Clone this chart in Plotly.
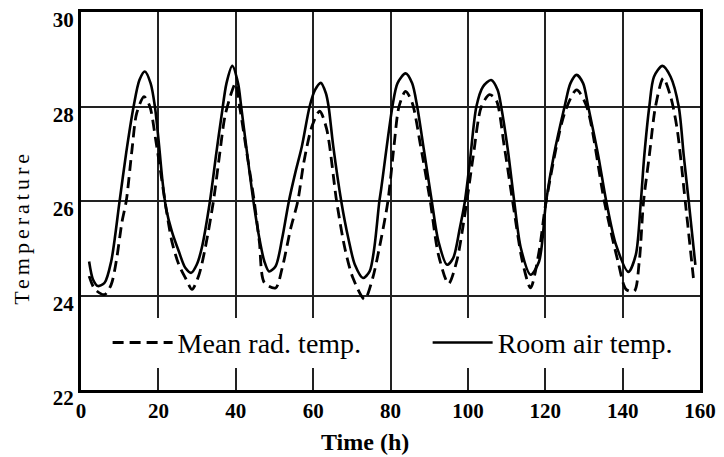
import plotly.graph_objects as go

# Room air temperature (solid)
air_t = [2.1, 3.1, 4.4, 6.1, 7.8, 9.95, 11.7, 13.6, 15.1, 16.5, 18.0, 19.1, 20.2, 21.0, 22.0, 23.5, 25.3, 27.0,
         28.5, 29.9, 31.2, 33.3, 35.0, 36.3, 37.6, 39.1, 40.6, 41.4, 42.7, 44.6, 46.1, 47.4, 48.6, 50.3,
         52.0, 53.7, 55.4, 57.1, 59.1, 60.5, 62.0, 63.3, 64.0, 65.2, 67.3, 69.1, 70.8, 72.9, 74.6, 75.8,
         77.1, 77.6, 80.5, 81.8, 83.9, 85.6, 86.9, 88.6, 90.7, 92.4, 94.6, 96.2, 97.9, 99.2, 100.5, 102.2,
         103.9, 106.0, 107.7, 108.6, 110.3, 112.0, 113.7, 116.2, 118.4, 120.2, 122.2, 125.0, 126.5, 128.1,
         129.8, 131.1, 133.7, 135.8, 138.3, 141.5, 143.4, 144.7, 145.6, 146.9, 148.1, 150.3, 152.4, 154.5,
         155.8, 157.1, 158.8]
air_T = [24.72, 24.34, 24.2, 24.27, 24.72, 25.98, 27.03, 28.0, 28.56, 28.74, 28.49, 28.0, 27.16, 26.47, 25.84,
         25.35, 24.93, 24.58, 24.48, 24.65, 25.0, 25.98, 27.03, 27.79, 28.49, 28.86, 28.49, 28.0, 27.16,
         25.98, 25.21, 24.72, 24.51, 24.62, 25.21, 25.98, 26.6, 27.16, 28.0, 28.35, 28.5, 28.28, 28.0, 27.16,
         25.98, 25.21, 24.65, 24.37, 24.51, 25.0, 25.98, 26.26, 28.0, 28.49, 28.7, 28.49, 28.0, 27.1, 25.98,
         25.14, 24.65, 24.79, 25.42, 25.98, 26.82, 28.0, 28.42, 28.56, 28.35, 28.0, 27.1, 25.98, 25.0, 24.44,
         24.72, 25.98, 26.96, 28.0, 28.49, 28.67, 28.49, 28.0, 26.96, 25.98, 25.07, 24.5, 24.86, 25.98,
         26.96, 28.0, 28.63, 28.86, 28.63, 28.0, 26.96, 25.98, 24.65]

# Mean radiant temperature (dashed)
rad_t = [2.1, 3.6, 6.1, 7.8, 9.1, 10.6, 11.7, 13.2, 14.4, 16.3, 17.8, 19.3, 20.6, 22.0, 23.5, 25.3, 27.0, 28.7,
         30.5, 32.1, 34.2, 35.9, 37.2, 39.0, 39.9, 41.0, 42.7, 44.8, 46.1, 47.4, 50.3, 52.0, 54.2, 56.0,
         57.6, 59.7, 61.7, 63.5, 66.1, 68.2, 70.3, 73.3, 75.4, 77.1, 79.3, 80.9, 82.2, 83.9, 85.6, 87.8,
         90.3, 92.4, 95.0, 97.1, 99.7, 101.4, 103.5, 105.6, 107.3, 109.4, 111.6, 114.1, 116.2, 118.4, 120.2,
         125.0, 128.1, 130.7, 135.3, 138.8, 140.9, 143.0, 144.3, 145.4, 146.9, 148.5, 150.5, 152.4, 154.1,
         156.2, 158.3]
rad_T = [24.41, 24.13, 24.02, 24.23, 24.72, 25.56, 26.0, 27.1, 27.86, 28.21, 28.0, 27.3, 26.6, 25.84, 25.14,
         24.65, 24.37, 24.13, 24.44, 25.0, 25.98, 27.03, 27.79, 28.32, 28.49, 28.0, 27.1, 25.98, 25.14, 24.27,
         24.16, 24.58, 25.42, 25.98, 26.82, 27.58, 27.9, 27.52, 25.98, 25.0, 24.37, 23.92, 24.37, 25.0, 25.98,
         27.16, 28.0, 28.32, 28.08, 27.16, 25.98, 24.86, 24.25, 24.72, 25.98, 26.96, 28.0, 28.25, 28.14, 27.16,
         25.98, 24.72, 24.16, 24.93, 25.98, 27.86, 28.35, 28.0, 25.98, 24.72, 24.13, 24.09, 24.72, 25.98,
         26.96, 28.0, 28.6, 28.21, 27.52, 25.98, 24.37]

x_ticks = [0, 20, 40, 60, 80, 100, 120, 140, 160]
y_ticks = [22, 24, 26, 28, 30]

SERIF = "Liberation Serif"

fig = go.Figure()
fig.add_trace(go.Scatter(x=rad_t, y=rad_T, mode="lines", name="Mean rad. temp.", showlegend=True,
                         line=dict(color="black", width=2.8, dash="11px,6px", shape="spline", smoothing=0.8),
                         legend="legend"))
fig.add_trace(go.Scatter(x=air_t, y=air_T, mode="lines", name="Room air temp.", showlegend=True,
                         line=dict(color="black", width=2.6, shape="spline", smoothing=0.8),
                         legend="legend2"))

axis_common = dict(showline=True, linecolor="black", linewidth=3, mirror=True,
                   showgrid=True, gridcolor="#222", gridwidth=1.5, zeroline=False,
                   ticks="", ticklabeloverflow="allow",
                   tickfont=dict(family=SERIF, size=21, color="black"))

fig.update_xaxes(range=[0, 160], tickvals=x_ticks, ticktext=["<b>%d</b>" % v for v in x_ticks], **axis_common)
fig.update_yaxes(range=[22, 30], tickvals=y_ticks, ticktext=["<b>%d</b>" % v for v in y_ticks],
                 ticklabelshift=8, **axis_common)

fig.update_layout(
    width=724, height=457,
    margin=dict(l=81, r=16, t=8, b=67),
    paper_bgcolor="white", plot_bgcolor="white",
    font=dict(family=SERIF, color="black"),
    showlegend=True,
    legend=dict(x=0.043, y=0.191, bgcolor="white", borderwidth=0, yanchor="top", xanchor="left",
                itemwidth=60, font=dict(family=SERIF, size=28, color="black")),
    legend2=dict(x=0.56, y=0.191, bgcolor="white", borderwidth=0, yanchor="top", xanchor="left",
                 itemwidth=60, font=dict(family=SERIF, size=28, color="black")),
    annotations=[
        dict(text="<b>Time (h)</b>", xref="paper", yref="paper", x=0.458, y=0, yshift=-52,
             xanchor="center", yanchor="middle", showarrow=False,
             font=dict(family=SERIF, size=24, color="black")),
        dict(text='<span style="letter-spacing:4px">Temperature</span>', xref="paper", yref="paper",
             x=0, xshift=-59, y=0.429, xanchor="center", yanchor="middle", textangle=-90,
             showarrow=False, font=dict(family=SERIF, size=22, color="black")),
    ],
)

fig.write_html("out.html")
